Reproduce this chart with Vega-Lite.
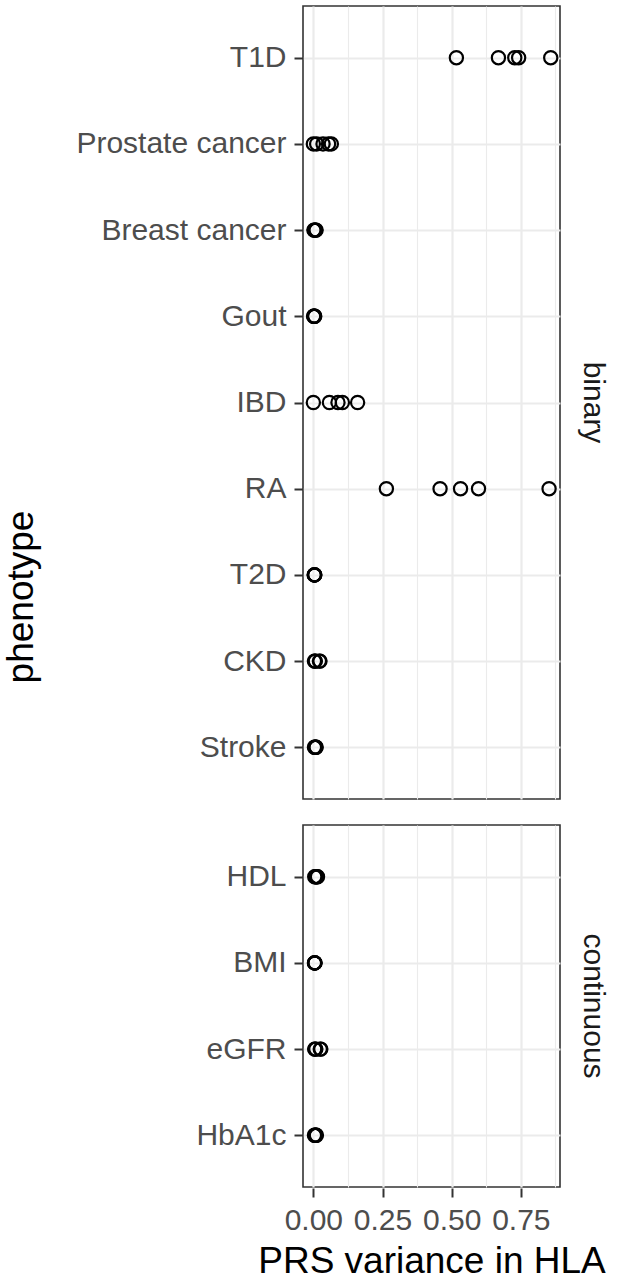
{
  "$schema": "https://vega.github.io/schema/vega-lite/v6.json",
  "padding": {"left": 3, "top": 5, "right": 5, "bottom": 5},
  "background": "white",
  "data": {
    "values": [
      {"type": "binary", "phenotype": "T1D", "value": 0.517},
      {"type": "binary", "phenotype": "T1D", "value": 0.669},
      {"type": "binary", "phenotype": "T1D", "value": 0.728},
      {"type": "binary", "phenotype": "T1D", "value": 0.742},
      {"type": "binary", "phenotype": "T1D", "value": 0.858},
      {"type": "binary", "phenotype": "Prostate cancer", "value": 0.0},
      {"type": "binary", "phenotype": "Prostate cancer", "value": 0.012},
      {"type": "binary", "phenotype": "Prostate cancer", "value": 0.035},
      {"type": "binary", "phenotype": "Prostate cancer", "value": 0.055},
      {"type": "binary", "phenotype": "Prostate cancer", "value": 0.065},
      {"type": "binary", "phenotype": "Breast cancer", "value": 0.002},
      {"type": "binary", "phenotype": "Breast cancer", "value": 0.004},
      {"type": "binary", "phenotype": "Breast cancer", "value": 0.006},
      {"type": "binary", "phenotype": "Breast cancer", "value": 0.008},
      {"type": "binary", "phenotype": "Breast cancer", "value": 0.010},
      {"type": "binary", "phenotype": "Gout", "value": 0.001},
      {"type": "binary", "phenotype": "Gout", "value": 0.002},
      {"type": "binary", "phenotype": "Gout", "value": 0.003},
      {"type": "binary", "phenotype": "Gout", "value": 0.004},
      {"type": "binary", "phenotype": "Gout", "value": 0.005},
      {"type": "binary", "phenotype": "IBD", "value": 0.0},
      {"type": "binary", "phenotype": "IBD", "value": 0.058},
      {"type": "binary", "phenotype": "IBD", "value": 0.089},
      {"type": "binary", "phenotype": "IBD", "value": 0.105},
      {"type": "binary", "phenotype": "IBD", "value": 0.160},
      {"type": "binary", "phenotype": "RA", "value": 0.264},
      {"type": "binary", "phenotype": "RA", "value": 0.458},
      {"type": "binary", "phenotype": "RA", "value": 0.532},
      {"type": "binary", "phenotype": "RA", "value": 0.597},
      {"type": "binary", "phenotype": "RA", "value": 0.852},
      {"type": "binary", "phenotype": "T2D", "value": 0.003},
      {"type": "binary", "phenotype": "T2D", "value": 0.004},
      {"type": "binary", "phenotype": "T2D", "value": 0.004},
      {"type": "binary", "phenotype": "T2D", "value": 0.005},
      {"type": "binary", "phenotype": "T2D", "value": 0.005},
      {"type": "binary", "phenotype": "CKD", "value": 0.004},
      {"type": "binary", "phenotype": "CKD", "value": 0.006},
      {"type": "binary", "phenotype": "CKD", "value": 0.007},
      {"type": "binary", "phenotype": "CKD", "value": 0.022},
      {"type": "binary", "phenotype": "CKD", "value": 0.024},
      {"type": "binary", "phenotype": "Stroke", "value": 0.004},
      {"type": "binary", "phenotype": "Stroke", "value": 0.006},
      {"type": "binary", "phenotype": "Stroke", "value": 0.007},
      {"type": "binary", "phenotype": "Stroke", "value": 0.009},
      {"type": "binary", "phenotype": "Stroke", "value": 0.010},
      {"type": "continuous", "phenotype": "HDL", "value": 0.005},
      {"type": "continuous", "phenotype": "HDL", "value": 0.008},
      {"type": "continuous", "phenotype": "HDL", "value": 0.010},
      {"type": "continuous", "phenotype": "HDL", "value": 0.013},
      {"type": "continuous", "phenotype": "HDL", "value": 0.015},
      {"type": "continuous", "phenotype": "BMI", "value": 0.004},
      {"type": "continuous", "phenotype": "BMI", "value": 0.005},
      {"type": "continuous", "phenotype": "BMI", "value": 0.005},
      {"type": "continuous", "phenotype": "BMI", "value": 0.005},
      {"type": "continuous", "phenotype": "BMI", "value": 0.006},
      {"type": "continuous", "phenotype": "eGFR", "value": 0.005},
      {"type": "continuous", "phenotype": "eGFR", "value": 0.006},
      {"type": "continuous", "phenotype": "eGFR", "value": 0.009},
      {"type": "continuous", "phenotype": "eGFR", "value": 0.025},
      {"type": "continuous", "phenotype": "eGFR", "value": 0.027},
      {"type": "continuous", "phenotype": "HbA1c", "value": 0.004},
      {"type": "continuous", "phenotype": "HbA1c", "value": 0.006},
      {"type": "continuous", "phenotype": "HbA1c", "value": 0.008},
      {"type": "continuous", "phenotype": "HbA1c", "value": 0.009},
      {"type": "continuous", "phenotype": "HbA1c", "value": 0.011}
    ]
  },
  "facet": {
    "row": {
      "field": "type",
      "type": "nominal",
      "title": "phenotype",
      "sort": ["binary", "continuous"]
    }
  },
  "spacing": {"row": 24},
  "resolve": {"scale": {"y": "independent"}},
  "spec": {
    "width": 257,
    "height": {"step": 86.2},
    "mark": {"type": "point", "filled": false, "stroke": "black", "strokeWidth": 2.2, "size": 175, "opacity": 1},
    "encoding": {
      "x": {
        "field": "value",
        "type": "quantitative",
        "title": "PRS variance in HLA",
        "scale": {"domain": [-0.0374, 0.8915], "nice": false, "zero": false},
        "axis": {
          "values": [0, 0.125, 0.25, 0.375, 0.5, 0.625, 0.75, 0.875],
          "labelExpr": "round(datum.value*8)%2==0 ? format(datum.value,'.2f') : ''",
          "tickOpacity": {"condition": {"test": "round(datum.value*8)%2==1", "value": 0}, "value": 1},
          "gridWidth": {"condition": {"test": "round(datum.value*8)%2==1", "value": 1.1}, "value": 2.2},
          "labelFlush": false,
          "labelOverlap": false,
          "titleFontSize": 37,
          "titlePadding": 8
        }
      },
      "y": {
        "field": "phenotype",
        "type": "nominal",
        "title": null,
        "sort": ["T1D", "Prostate cancer", "Breast cancer", "Gout", "IBD", "RA", "T2D", "CKD", "Stroke", "HDL", "BMI", "eGFR", "HbA1c"],
        "scale": {"padding": 0.6},
        "axis": {"gridWidth": 2.2, "labelLimit": 0}
      }
    }
  },
  "config": {
    "font": "Liberation Sans",
    "view": {"stroke": "#333333", "strokeWidth": 1.6},
    "axis": {
      "domain": false,
      "grid": true,
      "gridColor": "#EBEBEB",
      "labelFontSize": 30,
      "labelColor": "#4D4D4D",
      "labelFont": "Liberation Sans",
      "labelLimit": 0,
      "tickColor": "#333333",
      "tickWidth": 2,
      "tickSize": 9,
      "labelPadding": 8,
      "titleFontWeight": "normal",
      "titleColor": "black",
      "titleFont": "Liberation Sans"
    },
    "header": {
      "labelFontSize": 30,
      "labelColor": "#1A1A1A",
      "labelAngle": 90,
      "labelOrient": "right",
      "labelPadding": 15,
      "labelFont": "Liberation Sans",
      "titleOrient": "left",
      "titleAngle": -90,
      "titleFontSize": 37,
      "titleFontWeight": "normal",
      "titleColor": "black",
      "titleFont": "Liberation Sans",
      "titlePadding": -13
    }
  }
}
